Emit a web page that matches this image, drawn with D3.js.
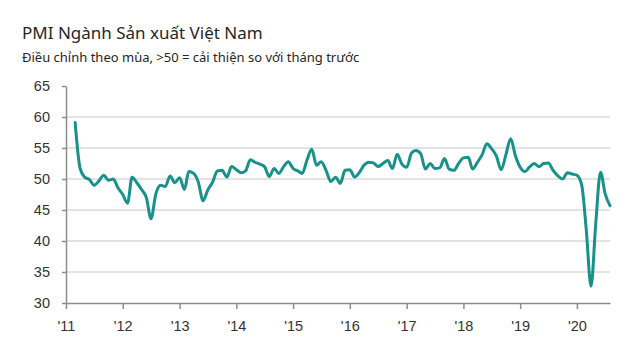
<!DOCTYPE html>
<html>
<head>
<meta charset="utf-8">
<script src="https://cdn.jsdelivr.net/npm/d3@7"></script>
<style>
  html, body { margin: 0; padding: 0; background: #fff; }
  svg { display: block; font-family: "Noto Sans", "Open Sans", sans-serif; }
  .title { font-size: 17px; fill: #262626; }
  .sub { font-size: 13px; fill: #262626; }
  .axis text { font-size: 14.5px; fill: #333; }
</style>
</head>
<body>
<div id="chart"></div>
<script>
// Vietnam manufacturing PMI, monthly, seasonally adjusted
const firstMonth = new Date(2011, 2, 1); // series starts March 2011
const pmi2011 = [59.1, 51.8, 50.3, 49.9, 49.0, 49.7, 50.6, 49.8, 50.0, 48.6];
const pmi2012 = [47.5, 46.1, 50.3, 49.4, 48.3, 47.0, 43.6, 47.6, 49.0, 48.8, 50.5, 49.4];
const pmi2013 = [50.2, 48.3, 51.2, 50.9, 49.5, 46.5, 48.2, 49.5, 51.3, 51.4, 50.3, 52.0];
const pmi2014 = [51.5, 51.0, 51.3, 53.1, 52.7, 52.4, 52.0, 50.4, 51.7, 50.9, 52.0, 52.8];
const pmi2015 = [51.7, 51.3, 50.9, 53.1, 54.8, 52.2, 52.8, 51.4, 49.6, 50.3, 49.3, 51.4];
const pmi2016 = [51.5, 50.3, 51.0, 52.2, 52.7, 52.6, 52.0, 52.5, 53.0, 51.7, 54.0, 52.4];
const pmi2017 = [51.9, 54.2, 54.6, 54.1, 51.6, 52.5, 51.7, 51.8, 53.3, 51.6, 51.4, 52.5];
const pmi2018 = [53.4, 53.5, 51.6, 52.7, 53.9, 55.7, 54.9, 53.7, 51.5, 53.9, 56.5, 53.8];
const pmi2019 = [51.9, 51.2, 51.9, 52.5, 52.0, 52.5, 52.6, 51.4, 50.5, 50.0, 51.0, 50.8];
const pmi2020 = [50.6, 49.0, 41.9, 32.7, 42.7, 51.1, 47.6, 45.7];

const yTicks = [30, 35, 40, 45, 50, 55, 60, 65];
const gridTicks = [35, 40, 45, 50, 55, 60]; // no line at 65 in the source
const xYears = [2011, 2012, 2013, 2014, 2015, 2016, 2017, 2018, 2019, 2020];

const title = "PMI Ngành Sản xuất Việt Nam";
const subtitle = "Điều chỉnh theo mùa, >50 = cải thiện so với tháng trước";

const values = [].concat(pmi2011, pmi2012, pmi2013, pmi2014, pmi2015,
                         pmi2016, pmi2017, pmi2018, pmi2019, pmi2020);
const data = values.map((v, i) => ({
  date: d3.timeMonth.offset(firstMonth, i),
  value: v
}));

const W = 640, H = 360;
const plotL = 66, plotR = 610, plotT = 86, plotB = 303;

const svg = d3.select("#chart").append("svg")
  .attr("width", W).attr("height", H)
  .attr("viewBox", `0 0 ${W} ${H}`);

svg.append("text").attr("class", "title")
  .attr("x", 22).attr("y", 39).text(title);
svg.append("text").attr("class", "sub")
  .attr("x", 22).attr("y", 62).text(subtitle);

const x = d3.scaleTime()
  .domain([new Date(2011, 0, 1), new Date(2020, 7, 1)])
  .range([plotL, plotR]);
const y = d3.scaleLinear().domain([30, 65]).range([plotB, plotT]);

// gridlines
svg.append("g")
  .selectAll("line")
  .data(gridTicks)
  .join("line")
  .attr("x1", plotL).attr("x2", plotR)
  .attr("y1", d => y(d)).attr("y2", d => y(d))
  .attr("stroke", "#dadada").attr("stroke-width", 1.5);

// y axis
const yAxis = svg.append("g").attr("class", "axis")
  .attr("transform", `translate(${plotL},0)`)
  .call(d3.axisLeft(y).tickValues(yTicks).tickSize(4).tickSizeOuter(0).tickPadding(12));
yAxis.select(".domain").attr("stroke", "#8c8c8c").attr("stroke-width", 1.5);
yAxis.selectAll(".tick line").attr("stroke", "#8c8c8c").attr("stroke-width", 1.5);

// x axis
const xAxis = svg.append("g").attr("class", "axis")
  .attr("transform", `translate(0,${plotB})`)
  .call(d3.axisBottom(x)
    .tickValues(xYears.map(yr => new Date(yr, 0, 1)))
    .tickFormat(d => "'" + String(d.getFullYear()).slice(2))
    .tickSize(6).tickSizeOuter(0).tickPadding(12));
xAxis.select(".domain").attr("stroke", "#8c8c8c").attr("stroke-width", 1.5);
xAxis.selectAll(".tick line").attr("stroke", "#8c8c8c").attr("stroke-width", 1.5);

// PMI line
const line = d3.line()
  .x(d => x(d.date))
  .y(d => y(d.value))
  .curve(d3.curveMonotoneX);

svg.append("path")
  .datum(data)
  .attr("d", line)
  .attr("fill", "none")
  .attr("stroke", "#17918a")
  .attr("stroke-width", 3)
  .attr("stroke-linejoin", "round")
  .attr("stroke-linecap", "round");
</script>
</body>
</html>
